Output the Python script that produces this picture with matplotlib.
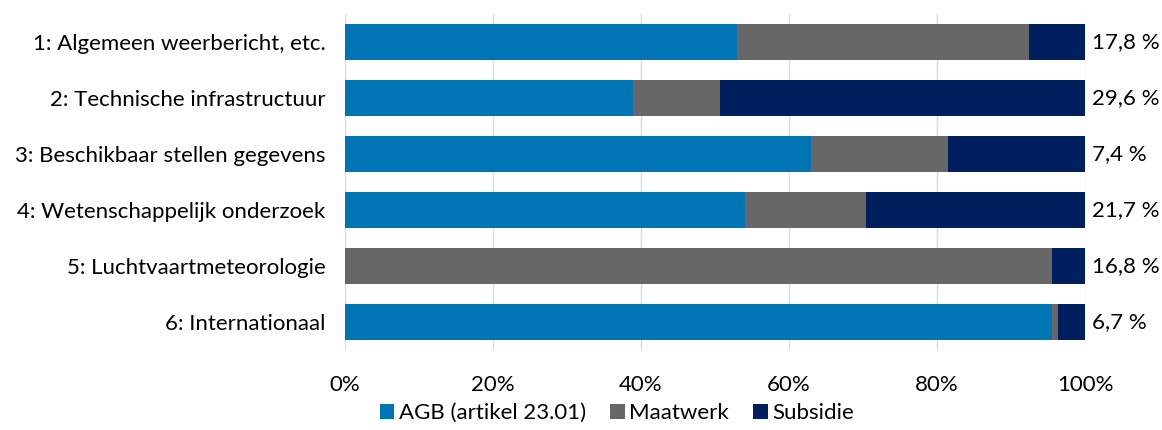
import numpy as np
import matplotlib.pyplot as plt

plt.rcParams['font.family'] = ['Lato', 'DejaVu Sans']

categories = ["1: Algemeen weerbericht, etc.", "2: Technische infrastructuur",
              "3: Beschikbaar stellen gegevens", "4: Wetenschappelijk onderzoek",
              "5: Luchtvaartmeteorologie", "6: Internationaal"]
agb = [53.0, 38.9, 63.0, 54.1, 0.0, 95.5]
maatwerk = [39.4, 11.8, 18.5, 16.3, 95.6, 0.9]
subsidie = [7.6, 49.3, 18.5, 29.6, 4.4, 3.6]
shares = ["17,8 %", "29,6 %", "7,4 %", "21,7 %", "16,8 %", "6,7 %"]

colors = ["#0075B5", "#676767", "#001F5E"]
fs = 16

fig = plt.figure(figsize=(11.62, 4.30), dpi=100)
ax = fig.add_axes([345 / 1162, 1 - 350 / 430, 740 / 1162, 336 / 430])

y = np.arange(len(categories))
left = np.zeros(len(categories))
for vals, col, name in zip([agb, maatwerk, subsidie], colors,
                           ["AGB (artikel 23.01)", "Maatwerk", "Subsidie"]):
    ax.barh(y, vals, left=left, height=0.66, color=col, label=name, zorder=2)
    left += np.array(vals)

ax.set_ylim(len(categories) - 0.5, -0.5)
ax.set_xlim(0, 100)
ax.set_yticks(y)
ax.set_yticklabels(categories, fontsize=fs)
ax.set_xticks(np.arange(0, 101, 20))
ax.set_xticklabels([f"{v}%" for v in range(0, 101, 20)], fontsize=fs)
ax.tick_params(length=0, pad=14, axis='y')
ax.tick_params(length=0, pad=18, axis='x')
ax.grid(axis='x', color='#d9d9d9', linewidth=1, zorder=0)
for s in ax.spines.values():
    s.set_visible(False)

for yi, s in zip(y, shares):
    ax.text(101, yi, s, va='center', ha='left', fontsize=fs)

fig.legend(*ax.get_legend_handles_labels(), loc='center', bbox_to_anchor=(617 / 1162, 1 - 413 / 430),
           ncol=3, frameon=False, fontsize=fs, handlelength=0.65, handleheight=0.65,
           handletextpad=0.2, columnspacing=1.1, borderpad=0)

fig.savefig("out.png", dpi=100)
